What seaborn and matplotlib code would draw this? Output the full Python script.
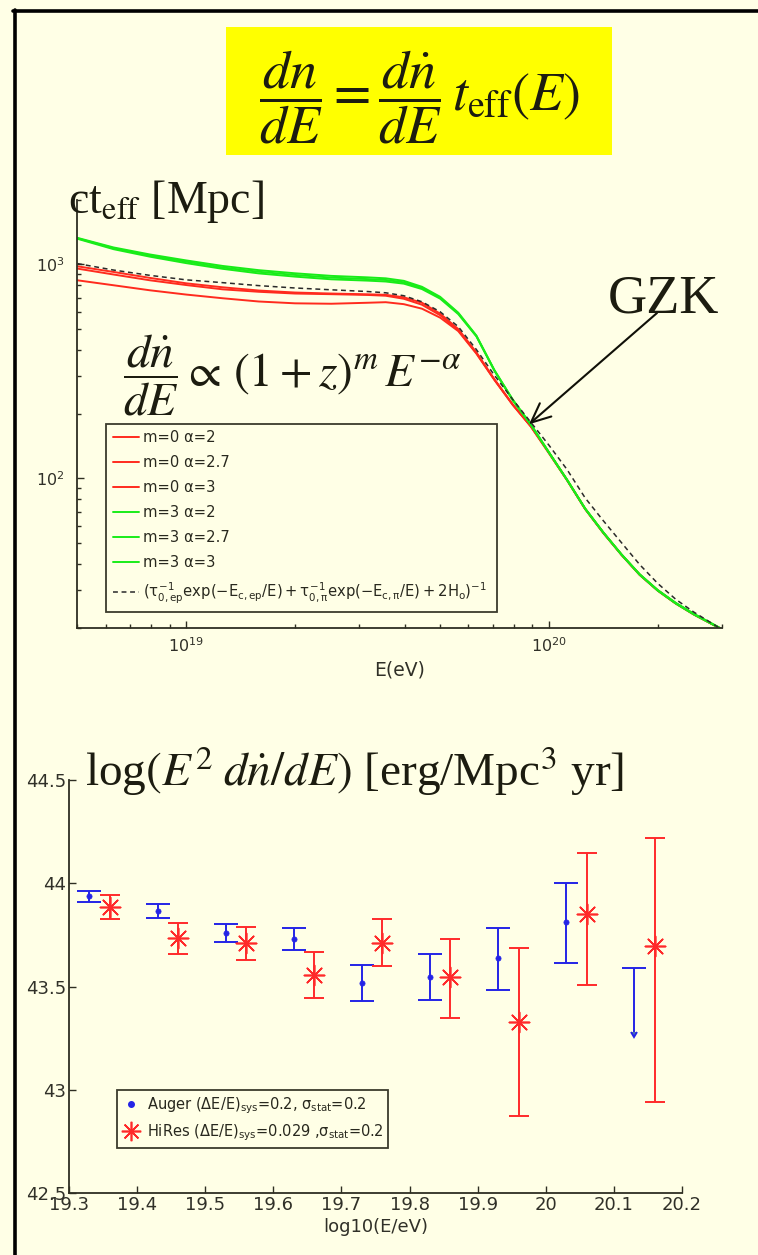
import numpy as np
import pandas as pd
import matplotlib
matplotlib.use("Agg")
import matplotlib.pyplot as plt
from matplotlib.lines import Line2D
from matplotlib.patches import Rectangle
from matplotlib.ticker import FormatStrFormatter
import seaborn as sns

# ---------------------------------------------------------------------------
# Effective propagation length c*t_eff [Mpc] versus energy
# ---------------------------------------------------------------------------
log_energy = [18.70, 18.80, 18.90, 19.00, 19.10, 19.20, 19.30, 19.40, 19.50,
              19.55, 19.60, 19.65, 19.70, 19.75, 19.80, 19.85, 19.90, 19.95,
              20.00, 20.05, 20.10, 20.15, 20.20, 20.25, 20.30, 20.35, 20.40,
              20.47]

ct_m0_a2 = [980, 922, 865, 816, 782, 755, 739, 731, 725, 721, 702, 662, 589,
            499, 388, 290, 222, 175.5, 132, 98.4, 72.1, 55.8, 44.1, 35.6,
            30.0, 26.1, 23.2, 20.0]
ct_m0_a27 = [956, 897, 843, 801, 765, 745, 731, 726, 720, 714, 691, 648, 579,
             493, 385, 289, 221, 175, 132, 98.2, 72.0, 55.7, 44.0, 35.5,
             29.9, 26.0, 23.1, 20.0]
ct_m0_a3 = [843, 799, 757, 723, 695, 671, 658, 655, 662, 666, 652, 621, 564,
            488, 383, 288, 221, 175, 131, 98.0, 71.8, 55.5, 43.9, 35.4,
            29.9, 26.0, 23.1, 20.0]
ct_m3_a2 = [1331, 1200, 1113, 1044, 984, 940, 909, 884, 870, 861, 838, 786,
            706, 595, 465, 320, 234, 179, 132.5, 98.6, 72.3, 56.0, 44.2,
            35.7, 30.1, 26.2, 23.3, 20.1]
ct_m3_a27 = [1325, 1190, 1100, 1030, 968, 924, 893, 868, 854, 846, 825, 776,
             699, 591, 463, 319, 233, 178.5, 132.3, 98.5, 72.2, 55.9, 44.1,
             35.6, 30.0, 26.1, 23.2, 20.0]
ct_m3_a3 = [1318, 1178, 1087, 1014, 954, 908, 877, 852, 840, 832, 813, 767,
            692, 586, 461, 318, 232, 178, 132, 98.3, 72.0, 55.7, 44.0, 35.5,
            29.9, 26.0, 23.1, 20.0]
ct_analytic = [1009, 941, 889, 847, 822, 796, 776, 761, 747, 737, 714, 669,
               601, 512, 400, 303, 234, 183, 143, 110, 81, 63.4, 50.1, 39.6,
               32.3, 27.2, 23.7, 20.0]

curve_labels = ["m=0 \u03b1=2", "m=0 \u03b1=2.7", "m=0 \u03b1=3",
                "m=3 \u03b1=2", "m=3 \u03b1=2.7", "m=3 \u03b1=3",
                r"$(\tau_{0,ep}^{-1}\mathrm{exp}(-E_{c,ep}/E)"
                r"+\tau_{0,\pi}^{-1}\mathrm{exp}(-E_{c,\pi}/E)+2H_o)^{-1}$"]

gzk_log_energy = 19.945
gzk_ct = 179

# ---------------------------------------------------------------------------
# Energy injection rate log(E^2 dn/dE) [erg/Mpc^3 yr]
# ---------------------------------------------------------------------------
auger_log_e = [19.33, 19.43, 19.53, 19.63, 19.73, 19.83, 19.93, 20.03]
auger_val = [43.938, 43.866, 43.760, 43.732, 43.515, 43.546, 43.636, 43.812]
auger_err_lo = [0.029, 0.033, 0.043, 0.055, 0.085, 0.109, 0.153, 0.196]
auger_err_hi = [0.026, 0.034, 0.043, 0.053, 0.089, 0.113, 0.149, 0.188]

auger_limit_log_e = [20.13]
auger_limit_val = [43.59]
auger_limit_len = [0.31]

hires_log_e = [19.36, 19.46, 19.56, 19.66, 19.76, 19.86, 19.96, 20.06, 20.16]
hires_val = [43.884, 43.734, 43.712, 43.556, 43.709, 43.544, 43.326, 43.851,
             43.696]
hires_err_lo = [0.057, 0.077, 0.084, 0.114, 0.111, 0.198, 0.452, 0.344, 0.756]
hires_err_hi = [0.058, 0.075, 0.078, 0.113, 0.116, 0.186, 0.361, 0.294, 0.522]

x_ticks_bottom = [19.3, 19.4, 19.5, 19.6, 19.7, 19.8, 19.9, 20.0, 20.1, 20.2]
y_ticks_bottom = [42.5, 43.0, 43.5, 44.0, 44.5]

# ---------------------------------------------------------------------------
BG = "#ffffe6"
INK = "#1c1c10"
AXC = "#2e2e22"
RED = "#ff2b1e"
GREEN = "#19ec19"
BLUE = "#2424e6"
HRED = "#ff2a2a"
DASH = "#2a2a2a"

sns.set_theme(style="ticks")
plt.rcParams.update({
    "font.family": ["DejaVu Sans"],
    "mathtext.fontset": "custom",
    "mathtext.rm": "DejaVu Sans",
    "mathtext.it": "DejaVu Sans",
    "mathtext.sf": "DejaVu Sans",
    "figure.facecolor": BG,
    "axes.facecolor": BG,
    "savefig.facecolor": BG,
    "axes.edgecolor": AXC,
    "axes.linewidth": 1.3,
    "xtick.direction": "in",
    "ytick.direction": "in",
    "xtick.color": AXC,
    "ytick.color": AXC,
    "xtick.labelcolor": "#303028",
    "ytick.labelcolor": "#303028",
})

W, H = 758, 1255
fig = plt.figure(figsize=(W / 100, H / 100), dpi=100)


def fx(px):
    return px / W


def fy(py):
    return 1 - py / H


# slide frame
fig.add_artist(Line2D([fx(14.5), fx(14.5)], [0, fy(10)], color="black",
                      lw=2.6, transform=fig.transFigure))
fig.add_artist(Line2D([fx(13.2), 1], [fy(10.5), fy(10.5)], color="black",
                      lw=2.6, transform=fig.transFigure))

# highlighted propagation equation
fig.add_artist(Rectangle((fx(226), fy(155)), fx(612) - fx(226), fy(27) - fy(155),
                         transform=fig.transFigure, facecolor="#ffff00",
                         edgecolor="none"))
fig.text(fx(419), fy(97),
         r"$\dfrac{dn}{dE}=\dfrac{d\dot{n}}{dE}\,t_{\mathrm{eff}}(E)$",
         math_fontfamily="stix", fontsize=39, color=INK, ha="center",
         va="center")

# ---------------------------- upper panel ---------------------------------
ax1 = fig.add_axes([fx(77), fy(628), fx(722) - fx(77), fy(200) - fy(628)])
energy_ev = 10.0 ** np.array(log_energy)
curves = pd.DataFrame({
    "E": energy_ev,
    curve_labels[0]: ct_m0_a2, curve_labels[1]: ct_m0_a27,
    curve_labels[2]: ct_m0_a3, curve_labels[3]: ct_m3_a2,
    curve_labels[4]: ct_m3_a27, curve_labels[5]: ct_m3_a3,
    curve_labels[6]: ct_analytic,
})
colors = [RED, RED, RED, GREEN, GREEN, GREEN, DASH]
handles = []
for lab, col in zip(curve_labels, colors):
    ls = (0, (3.2, 2.4)) if col == DASH else "-"
    lw = 1.1 if col == DASH else 1.4
    sns.lineplot(data=curves, x="E", y=lab, ax=ax1, color=col, lw=lw,
                 linestyle=ls, errorbar=None, legend=False)
    handles.append(Line2D([], [], color=col, lw=lw, linestyle=ls))

ax1.set_xscale("log")
ax1.set_yscale("log")
ax1.set_xlim(5e18, 3e20)
ax1.set_ylim(20, 2000)
ax1.set_xlabel("E(eV)", fontsize=13.5, color="#303028", labelpad=4)
ax1.set_ylabel("")
ax1.spines[["top", "right"]].set_visible(False)
ax1.tick_params(which="major", length=5, width=1.0, labelsize=11.5, pad=6)
ax1.tick_params(which="minor", length=3, width=1.0)
ax1.tick_params(axis="y", pad=9)

leg1 = ax1.legend(handles, curve_labels, loc="lower left",
                  bbox_to_anchor=(0.045, 0.037, 0.606, 0.2), mode="expand",
                  borderaxespad=0, fancybox=False, framealpha=1,
                  facecolor=BG, edgecolor="#3c3c2c", fontsize=10.6,
                  handlelength=1.8, handletextpad=0.25, labelspacing=0.68,
                  borderpad=0.45)
leg1.get_frame().set_linewidth(1.3)
for t in leg1.get_texts():
    t.set_color("#28281e")

ax1.annotate("", xy=(10 ** gzk_log_energy, gzk_ct), xycoords="data",
             xytext=(657, H - 313), textcoords="figure pixels",
             arrowprops=dict(arrowstyle="->,head_length=1.0,head_width=0.45",
                             mutation_scale=14, lw=1.5, color="#101008",
                             shrinkA=0, shrinkB=0))

fig.text(fx(608), fy(312), "GZK", family="Liberation Serif", fontsize=39,
         color=INK, va="baseline", ha="left")
fig.text(fx(68), fy(213), r"ct$_{\mathrm{eff}}$ [Mpc]",
         family="Liberation Serif", math_fontfamily="stix", fontsize=33,
         color=INK, va="baseline", ha="left")
fig.text(fx(123), fy(375),
         r"$\dfrac{d\dot{n}}{dE}\propto\,(1+z)^{m}\,E^{-\alpha}$",
         math_fontfamily="stix", fontsize=34, color=INK, va="center",
         ha="left")

# ---------------------------- lower panel ---------------------------------
ax2 = fig.add_axes([fx(69), fy(1193), fx(682) - fx(69), fy(780) - fy(1193)])

ax2.errorbar(auger_log_e, auger_val, yerr=[auger_err_lo, auger_err_hi],
             fmt="none", ecolor=BLUE, elinewidth=1.4, capsize=8.5,
             capthick=1.4)
lim = ax2.errorbar(auger_limit_log_e, auger_limit_val,
                   yerr=[auger_limit_len, auger_limit_len], uplims=[True],
                   fmt="none", ecolor=BLUE, elinewidth=1.4, capsize=8.5,
                   capthick=1.4)
for cl in lim[1]:
    if cl.get_marker() != "_":
        cl.set_markersize(4.5)
ax2.errorbar(hires_log_e, hires_val, yerr=[hires_err_lo, hires_err_hi],
             fmt="none", ecolor=HRED, elinewidth=1.4, capsize=7.5,
             capthick=1.4)

sns.scatterplot(x=auger_log_e, y=auger_val, ax=ax2, marker="o", s=14,
                color=BLUE, edgecolor=BLUE, linewidth=0.5, zorder=5)
sns.scatterplot(x=hires_log_e, y=hires_val, ax=ax2, marker=(8, 2, 0), s=210,
                color=HRED, edgecolor=HRED, linewidth=1.2, zorder=5)

ax2.set_xlim(19.3, 20.2)
ax2.set_ylim(42.5, 44.5)
ax2.set_xticks(x_ticks_bottom)
ax2.set_yticks(y_ticks_bottom)
ax2.xaxis.set_major_formatter(FormatStrFormatter("%g"))
ax2.yaxis.set_major_formatter(FormatStrFormatter("%g"))
ax2.spines[["top", "right"]].set_visible(False)
ax2.tick_params(which="major", length=5, width=1.0, labelsize=13, pad=2)
ax2.set_xlabel("log10(E/eV)", fontsize=13, color="#303028", labelpad=3)
ax2.set_ylabel("")

h_auger = Line2D([], [], linestyle="none", marker="o", markersize=4,
                 color=BLUE)
h_hires = Line2D([], [], linestyle="none", marker=(8, 2, 0), markersize=14,
                 color=HRED, markeredgewidth=1.2)
leg2 = ax2.legend([h_auger, h_hires],
                  [r"Auger $(\Delta E/E)_{sys}$=0.2, $\sigma_{stat}$=0.2",
                   r"HiRes $(\Delta E/E)_{sys}$=0.029 ,$\sigma_{stat}$=0.2"],
                  loc="lower left", bbox_to_anchor=(0.078, 0.109),
                  borderaxespad=0, fancybox=False, framealpha=1, facecolor=BG,
                  edgecolor="#3c3c2c", fontsize=10.5, handlelength=1.2,
                  handletextpad=0.5, labelspacing=0.45, borderpad=0.35)
leg2.get_frame().set_linewidth(1.3)
for t in leg2.get_texts():
    t.set_color("#28281e")

fig.text(fx(85), fy(786), r"log$(E^2\;d\dot{n}/dE)$ [erg/Mpc$^3$ yr]",
         family="Liberation Serif", math_fontfamily="stix", fontsize=34,
         color=INK, va="baseline", ha="left")

fig.savefig("out.png", dpi=100, facecolor=BG)
